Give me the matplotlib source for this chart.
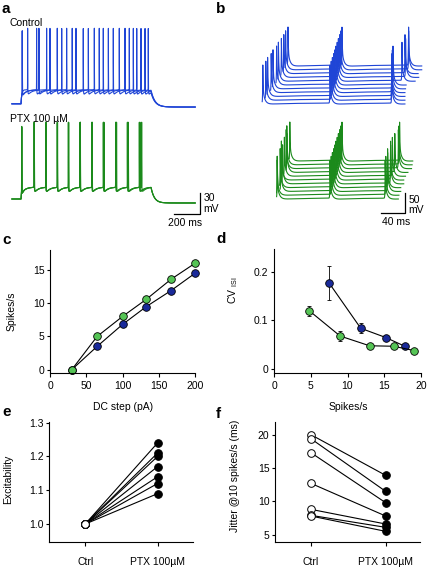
import numpy as np
import matplotlib
matplotlib.use('Agg')
import matplotlib.pyplot as plt

plt.rcParams['font.family'] = ['Liberation Sans', 'DejaVu Sans']
plt.rcParams['font.size'] = 7.5
plt.rcParams['mathtext.fontset'] = 'custom'
plt.rcParams['mathtext.rm'] = 'Liberation Sans'
plt.rcParams['axes.linewidth'] = 0.8
plt.rcParams['xtick.major.width'] = 0.8
plt.rcParams['ytick.major.width'] = 0.8
plt.rcParams['xtick.major.size'] = 3
plt.rcParams['ytick.major.size'] = 2.5

# ---- data ----
# a: spike times (ms from step onset) of overlaid sweeps, 1 s step
a_ctrl_spikes = [
    [10, 120, 223, 313, 423, 518, 633, 756, 864, 954],
    [10, 138, 279, 394, 479, 602, 710, 833, 923],
    [51, 197, 351, 564, 672, 800, 890, 979],
]
a_ptx_spikes = [
    [5, 102, 190, 279, 364, 454, 544, 633, 728, 818, 910],
    [6, 103, 192, 281, 366, 456, 547, 636, 731, 821, 915],
    [5, 101, 191, 280, 366, 457, 548, 638, 735, 826, 928],
]
# b: preceding / following interspike interval (ms) around the aligned spike, 11 sweeps
b_ctrl_left = [112, 109, 108, 104, 103, 99, 98, 95, 93, 92, 90]
b_ctrl_right = [103, 101, 99, 97, 96, 95, 108, 112, 109, 113, 111]
b_ptx_left = [88, 90, 86, 89, 87, 91, 88, 86, 89, 90, 87]
b_ptx_right = [92, 91, 92, 90, 93, 91, 92, 94, 98, 97, 96]

# c: f-I curve
c_current = [30, 65, 100, 133, 167, 200]
c_ctrl = [0, 3.5, 6.8, 9.5, 11.9, 14.5]
c_ptx = [0, 5.0, 8.0, 10.6, 13.6, 16.0]

# d: CV of ISI vs rate
d_ctrl_rate = [7.5, 11.8, 15.2, 17.8]
d_ctrl_cv = [0.177, 0.084, 0.065, 0.047]
d_ctrl_err = [0.035, 0.010, 0.005, 0.004]
d_ptx_rate = [4.8, 9.0, 13.0, 16.3, 19.1]
d_ptx_cv = [0.120, 0.068, 0.048, 0.047, 0.038]
d_ptx_err = [0.010, 0.010, 0.004, 0.003, 0.003]

# e, f: paired cells
pair_labels = ['Ctrl', 'PTX 100\u00b5M']
e_ctrl = [1.0, 1.0, 1.0, 1.0, 1.0, 1.0, 1.0]
e_ptx = [1.24, 1.21, 1.20, 1.17, 1.14, 1.12, 1.09]
f_ctrl = [20.0, 19.4, 17.3, 12.7, 8.8, 7.9, 7.8]
f_ptx = [13.9, 11.5, 9.8, 7.8, 6.6, 6.1, 5.5]

TRACE_BLUE = '#1f45d6'
TRACE_GREEN = '#1b8a1b'
DOT_BLUE = '#1a2a9a'
DOT_GREEN = '#55c455'

W, H = 430, 569
fig = plt.figure(figsize=(W / 100, H / 100), dpi=100)


def box(l, t, r, b):
    return fig.add_axes([l / W, 1 - b / H, (r - l) / W, (b - t) / H])


def spike_train(t, spikes, amp, tail, tail_tau, ahp, ahp_tau):
    v = np.zeros_like(t)
    for ts in spikes:
        dt = t - ts
        pre = dt < 0
        v[pre] += amp * np.exp(dt[pre] / 0.3)
        d = dt[~pre]
        v[~pre] += ((amp - tail) * np.exp(-d / 0.5) + tail * np.exp(-d / tail_tau)
                    - ahp * (1 - np.exp(-d / 1.5)) * np.exp(-d / ahp_tau))
    return v


def step_sweep(t, spikes, v_rest, v_plat, v_post, amp, off_tau):
    v = np.full_like(t, v_rest)
    on = (t >= 0) & (t < 1000)
    v[on] = v_plat + (v_rest - v_plat) * np.exp(-t[on] / 6)
    v += np.where(on, spike_train(t, spikes, amp, 6, 3, 8, 30), 0)
    end = v[on][-1]
    off = t >= 1000
    v[off] = v_post + (end - v_post) * np.exp(-(t[off] - 1000) / off_tau)
    return v


def label(x, y, s):
    fig.text(x / W, 1 - y / H, s, weight='bold', size=11, va='center', ha='left')


# ---- a ----
ax = box(0, 15, 215, 230)
ax.axis('off')
ax.set_xlim(-161.5, 1492)
ax.set_ylim(-114.3, 192.9)
t = np.arange(-70, 1340, 0.2)
for sw in a_ctrl_spikes:
    ax.plot(t, step_sweep(t, sw, -70, -50, -74.6, 88, 30) + 136, color=TRACE_BLUE, lw=0.8)
for sw in a_ptx_spikes:
    ax.plot(t, step_sweep(t, sw, -70, -53, -75.7, 93, 25), color=TRACE_GREEN, lw=0.8)
ax.plot([1177, 1377, 1377], [-91.4, -91.4, -61.4], color='k', lw=0.9)
ax.text(1405, -69, '30', va='center', ha='left')
ax.text(1405, -85, 'mV', va='center', ha='left')
ax.text(1265, -104, '200 ms', va='center', ha='center')
ax.text(-85, 182, 'Control', va='center', ha='left')
ax.text(-85, 45, 'PTX 100 \u00b5M', va='center', ha='left')

# ---- b ----
ax = box(215, 15, 430, 230)
ax.axis('off')
ax.set_xlim(-191.7, 166.7)
ax.set_ylim(-135, 402.5)
for left, right, color, base in [
        (b_ctrl_left, b_ctrl_right, TRACE_BLUE, -55 + 237.5),
        (b_ptx_left, b_ptx_right, TRACE_GREEN, -55)]:
    for k in range(len(left) - 1, -1, -1):
        tr = np.arange(-left[k] - 1, right[k] + 22, 0.1)
        v = spike_train(tr, [-left[k], 0, right[k]], 95, 35, 3.5, 4, 40)
        ax.plot(tr + 2 * k, v + base + 9.5 * k, color=color, lw=0.8)
ax.plot([85, 125, 125], [-92.5, -92.5, -42.5], color='k', lw=0.9)
ax.text(131, -61, '50', va='center', ha='left')
ax.text(131, -85, 'mV', va='center', ha='left')
ax.text(110, -115, '40 ms', va='center', ha='center')


def style(ax):
    ax.spines['top'].set_visible(False)
    ax.spines['right'].set_visible(False)
    ax.tick_params(direction='out', labelsize=7.5)
    ax.tick_params(axis='y', pad=1.5)
    ax.tick_params(axis='x', pad=2.5)


mk = dict(marker='o', ms=5.5, mec='k', mew=0.6, lw=0.8, color='k', clip_on=False)

# ---- c ----
ax = box(50, 250, 195, 373)
style(ax)
ax.plot(c_current, c_ctrl, mfc=DOT_BLUE, **mk)
ax.plot(c_current, c_ptx, mfc=DOT_GREEN, **mk)
ax.set_xlim(0, 200)
ax.set_ylim(-0.5, 18)
ax.set_xticks([0, 50, 100, 150, 200])
ax.set_yticks([0, 5, 10, 15])
ax.set_xlabel('DC step (pA)')
ax.set_ylabel('Spikes/s')
ax.xaxis.set_label_coords(0.503, -0.236)
ax.yaxis.set_label_coords(-0.228, 0.5)

# ---- d ----
ax = box(274, 249, 421, 373)
style(ax)
ax.errorbar(d_ctrl_rate, d_ctrl_cv, yerr=d_ctrl_err, fmt='none', ecolor='k', elinewidth=0.6, capsize=1.5, capthick=0.6)
ax.errorbar(d_ptx_rate, d_ptx_cv, yerr=d_ptx_err, fmt='none', ecolor='k', elinewidth=0.6, capsize=1.5, capthick=0.6)
ax.plot(d_ctrl_rate, d_ctrl_cv, mfc=DOT_BLUE, **mk)
ax.plot(d_ptx_rate, d_ptx_cv, mfc=DOT_GREEN, **mk)
ax.set_xlim(0, 20)
ax.set_ylim(-0.008, 0.247)
ax.set_xticks([0, 5, 10, 15, 20])
ax.set_yticks([0, 0.1, 0.2])
ax.set_yticklabels(['0', '0.1', '0.2'])
ax.set_xlabel('Spikes/s')
ax.set_ylabel('CV $_{\\mathrm{ISI}}$')
ax.xaxis.set_label_coords(0.504, -0.234)
ax.yaxis.set_label_coords(-0.232, 0.67)


# ---- e, f ----
def paired(ax, ctrl, ptx):
    style(ax)
    for c, p in zip(ctrl, ptx):
        ax.plot([0, 1], [c, p], color='k', lw=0.8, zorder=1)
    ax.plot([0] * len(ctrl), ctrl, ls='none', marker='o', ms=5.5, mfc='white', mec='k', mew=0.7, zorder=2)
    ax.plot([1] * len(ptx), ptx, ls='none', marker='o', ms=5.5, mfc='k', mec='k', mew=0.7, zorder=2)
    ax.set_xticks([0, 1])
    ax.set_xticklabels(pair_labels)
    ax.tick_params(axis='x', pad=8)


ax = box(49, 422, 193, 542)
paired(ax, e_ctrl, e_ptx)
ax.set_xlim(-0.5, 1.49)
ax.set_ylim(0.947, 1.302)
ax.set_yticks([1.0, 1.1, 1.2, 1.3])
ax.set_yticklabels(['1.0', '1.1', '1.2', '1.3'])
ax.set_ylabel('Excitability')
ax.yaxis.set_label_coords(-0.25, 0.52)

ax = box(275, 422, 420, 542)
paired(ax, f_ctrl, f_ptx)
ax.set_xlim(-0.48, 1.46)
ax.set_ylim(3.9, 21.9)
ax.set_yticks([5, 10, 15, 20])
ax.set_ylabel('Jitter @10 spikes/s (ms)')
ax.yaxis.set_label_coords(-0.24, 0.55)

label(2, 9, 'a')
label(216, 9, 'b')
label(2, 240, 'c')
label(216, 239, 'd')
label(2, 412, 'e')
label(216, 414, 'f')

fig.savefig('out.png', dpi=100)
